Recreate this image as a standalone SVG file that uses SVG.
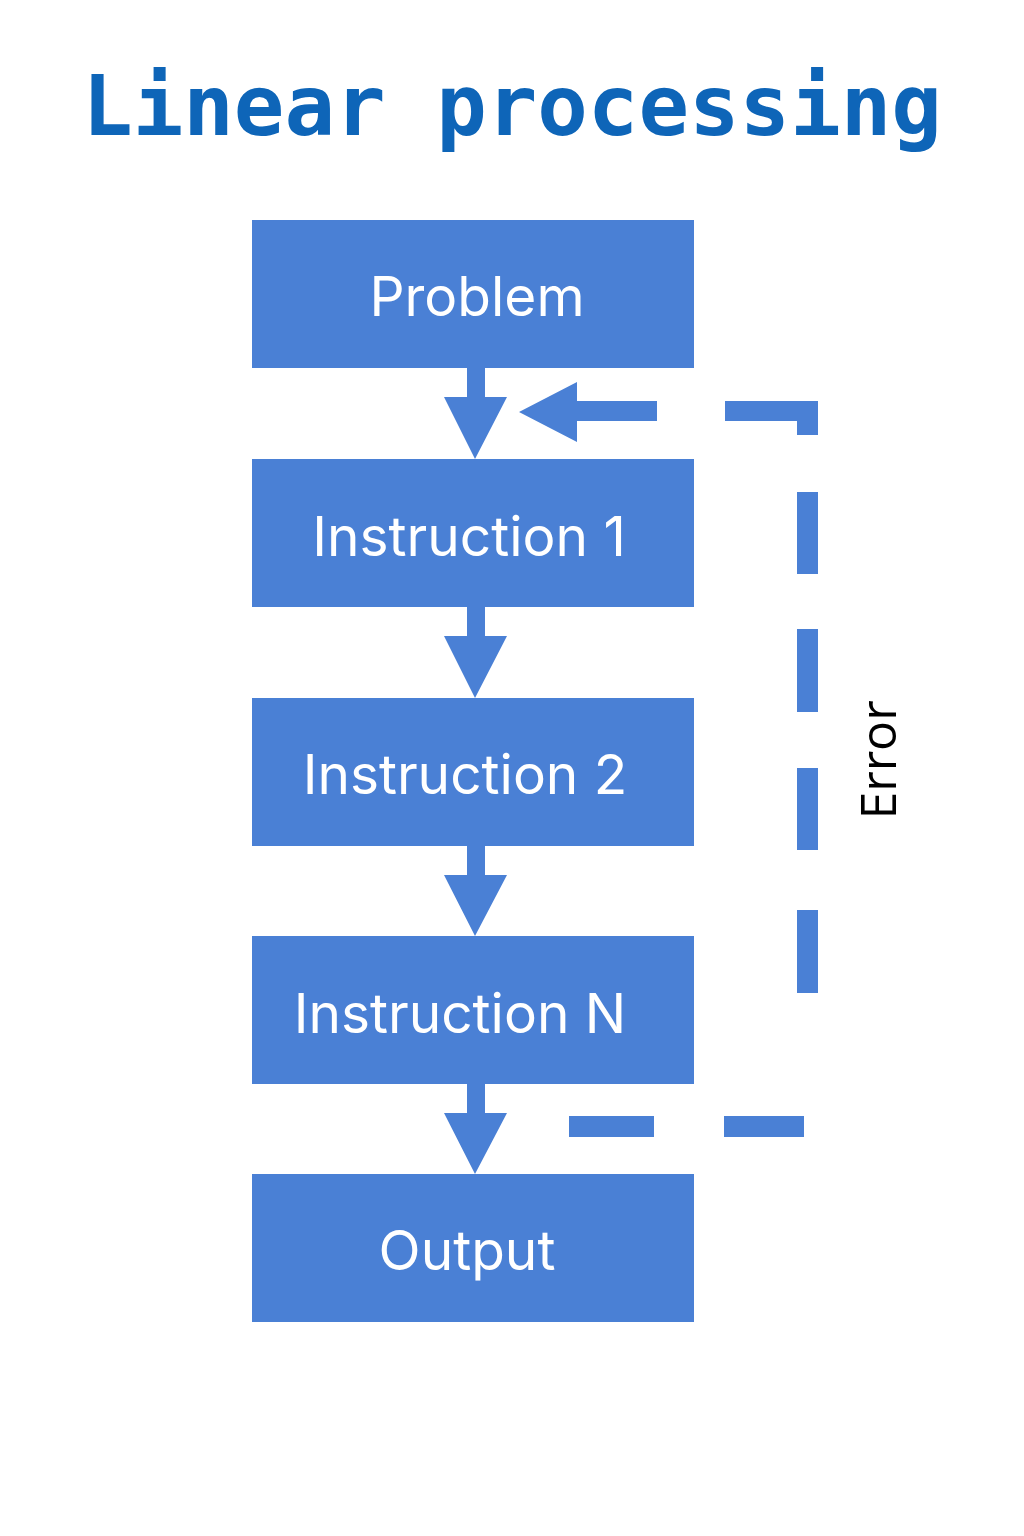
<svg xmlns="http://www.w3.org/2000/svg" width="1024" height="1536" viewBox="0 0 1024 1536">
<style>
.box{fill:#4A80D5}
.lbl{fill:#ffffff;font-family:Inter,"Open Sans",sans-serif;font-size:55px;text-anchor:middle}
.ln{fill:#4A80D5}
.title{fill:#0E65B8;font-family:"DejaVu Sans Mono","Liberation Mono",monospace;font-weight:bold;font-size:84px;text-anchor:middle}
.err{fill:#000000;font-family:"Open Sans",Inter,sans-serif;font-size:50px;text-anchor:middle}
</style>
<rect width="1024" height="1536" fill="#ffffff"/>
<text class="title" x="512" y="135">Linear processing</text>
<g id="problem"><rect class="box" x="252" y="220" width="442" height="148"/><text class="lbl" x="477" y="316">Problem</text></g>
<g id="instruction1"><rect class="box" x="252" y="459" width="442" height="148"/><text class="lbl" x="469" y="556">Instruction 1</text></g>
<g id="instruction2"><rect class="box" x="252" y="698" width="442" height="148"/><text class="lbl" x="465" y="794">Instruction 2</text></g>
<g id="instructionN"><rect class="box" x="252" y="936" width="442" height="148"/><text class="lbl" x="460" y="1033">Instruction N</text></g>
<g id="output"><rect class="box" x="252" y="1174" width="442" height="148"/><text class="lbl" x="467" y="1270">Output</text></g>
<g id="connectors">
<path class="ln" d="M467 368H485V397H507L475 459L444 397H467Z"/>
<path class="ln" d="M467 607H485V636H507L475 698L444 636H467Z"/>
<path class="ln" d="M467 846H485V875H507L475 936L444 875H467Z"/>
<path class="ln" d="M467 1084H485V1113H507L475 1174L444 1113H467Z"/>
<path class="ln" d="M657 401V421H577V442L519 412L577 382V401Z"/>
<path class="ln" d="M725 401H818V435H797V421H725Z"/>
<rect class="ln" x="797" y="492" width="21" height="82"/>
<rect class="ln" x="797" y="629" width="21" height="83"/>
<rect class="ln" x="797" y="768" width="21" height="82"/>
<rect class="ln" x="797" y="910" width="21" height="83"/>
<rect class="ln" x="569" y="1116" width="85" height="21"/>
<rect class="ln" x="724" y="1116" width="80" height="21"/>
<text class="err" transform="translate(896 760) rotate(-90)" x="0" y="0">Error</text>
</g>
</svg>
